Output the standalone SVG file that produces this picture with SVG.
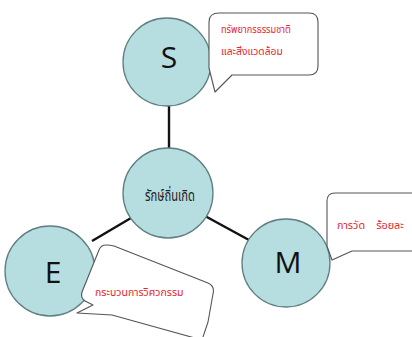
<svg xmlns="http://www.w3.org/2000/svg" width="412" height="337" viewBox="0 0 412 337">
  <style>
    .node { fill: #b6dde0; stroke: #5f7f82; stroke-width: 1.3; }
    .letter { font-family: "Open Sans", "Liberation Sans", sans-serif; font-size: 30px; fill: #111; text-anchor: middle; }
    .hub { font-family: "Noto Sans Thai", "Noto Sans", "DejaVu Sans", sans-serif; font-size: 16px; fill: #222; text-anchor: middle; }
    .bubble { fill: #fff; stroke: #555; stroke-width: 1.1; stroke-linejoin: round; }
    .note { font-family: "Noto Sans Thai", "Noto Sans", "DejaVu Sans", sans-serif; font-size: 10px; fill: #e8232b; }
    .link { stroke: #111; stroke-width: 2.4; fill: none; }
  </style>
  <rect width="412" height="337" fill="#fff"/>

  <g id="connectors">
    <line class="link" x1="169" y1="106" x2="169" y2="148"/>
    <line class="link" x1="131" y1="218" x2="92" y2="241"/>
    <line class="link" x1="205" y1="216" x2="249" y2="240"/>
  </g>

  <g id="hub">
    <circle class="node" cx="168" cy="193" r="45"/>
    <text class="hub" transform="translate(170 201) scale(0.7 1)">รักษ์ถิ่นเกิด</text>
  </g>

  <g id="node-s">
    <circle class="node" cx="167" cy="62" r="44"/>
    <text class="letter" x="169" y="68">S</text>
  </g>

  <g id="node-e">
    <circle class="node" cx="50" cy="271" r="45"/>
    <text class="letter" x="53" y="283">E</text>
  </g>

  <g id="node-m">
    <circle class="node" cx="286" cy="263" r="44"/>
    <text class="letter" x="288" y="273">M</text>
  </g>

  <g id="callout-s">
    <path class="bubble" d="M219 13 H309 Q318 13 318 22 V66 Q318 75 309 75 H232 L215 92 L209 68 V22 Q209 13 219 13 Z"/>
    <text class="note" transform="translate(221 33) scale(0.92 1)">ทรัพยากรธรรมชาติ</text>
    <text class="note" transform="translate(221 55) scale(1.03 1)">และสิ่งแวดล้อม</text>
  </g>

  <g id="callout-e">
    <path class="bubble" d="M106 245 Q101 245 99 250 L82 292 Q80 299 87 302 L93 305 L77 313 L112 315 L202 340 L208 322 L213 294 Q215 286 208 283 L114 246 Q110 245 106 245 Z"/>
    <text class="note" transform="translate(95 296) scale(1.05 1)">กระบวนการวิศวกรรม</text>
  </g>

  <g id="callout-m">
    <path class="bubble" d="M335 193 H420 V251 H352 L332 260 L327 246 V201 Q327 193 335 193 Z"/>
    <text class="note" transform="translate(337 229) scale(1.08 1)" xml:space="preserve">การวัด    ร้อยละ</text>
  </g>
</svg>
